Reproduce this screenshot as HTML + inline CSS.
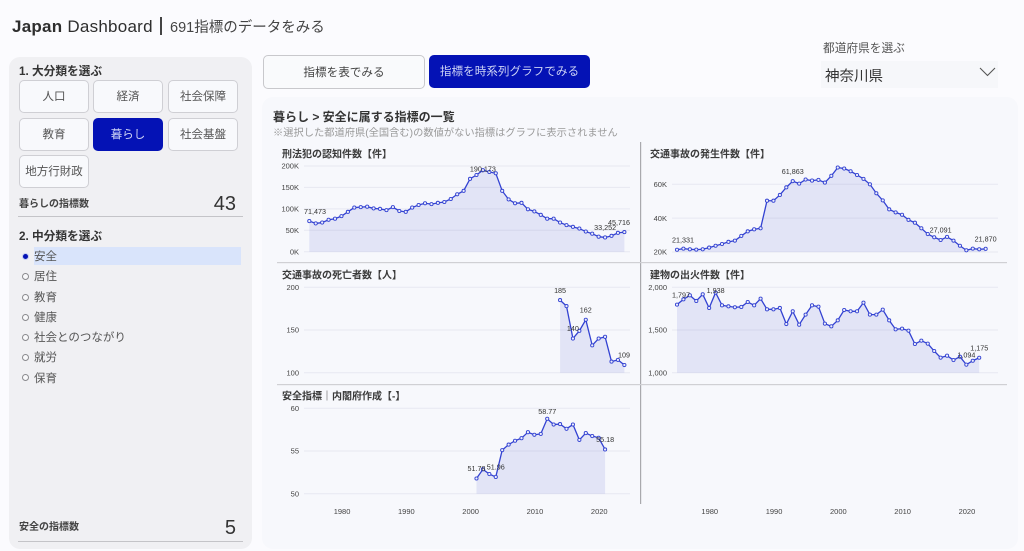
<!DOCTYPE html>
<html lang="ja">
<head>
<meta charset="utf-8">
<title>Japan Dashboard</title>
<style>
html,body{margin:0;padding:0;background:#fbfbfe;}
body{width:1024px;height:551px;overflow:hidden;position:relative;font-family:"Liberation Sans","Noto Sans CJK JP",sans-serif;color:#333;}
.abs{position:absolute;white-space:nowrap;}
#sidebar{position:absolute;left:9px;top:57px;width:243px;height:492px;background:#f0f0f3;border-radius:11px;}
#main-panel{position:absolute;left:262px;top:97px;width:756px;height:452px;background:#f7f8fc;border-radius:11px;}
.cat{position:absolute;width:68px;height:31px;box-sizing:content-box;border:1px solid #cfcfd4;border-radius:5px;background:#f8f9fc;color:#555;font-size:11.5px;line-height:33px;text-align:center;}
.cat.on{background:#0412b5;border-color:#0412b5;color:#ccd2f5;}
.hd{font-weight:700;font-size:11.7px;color:#333;}
.radio{position:absolute;left:21.5px;width:5px;height:5px;border:1px solid #8a8a8e;border-radius:50%;background:#f8f8fa;}
.rlabel{position:absolute;left:34px;font-size:11.5px;line-height:16px;color:#555;white-space:nowrap;}
.rule{position:absolute;left:18px;width:225px;height:1px;background:#c4c4c8;}
svg{position:absolute;left:0;top:0;}
</style>
</head>
<body>
<div class="abs" style="left:12px;top:16px;font-size:17px;line-height:22px;letter-spacing:.25px;color:#2e2e2e;"><b>Japan</b> Dashboard</div>
<div class="abs" style="left:160px;top:17px;width:1.5px;height:18px;background:#444;"></div>
<div class="abs" style="left:170px;top:17.5px;font-size:14.5px;line-height:20px;color:#444;">691指標のデータをみる</div>

<div id="sidebar"></div>
<div class="abs hd" style="left:19px;top:64px;line-height:16px;">1. 大分類を選ぶ</div>
<div class="cat" style="left:19px;top:80px;">人口</div>
<div class="cat" style="left:93px;top:80px;">経済</div>
<div class="cat" style="left:168px;top:80px;">社会保障</div>
<div class="cat" style="left:19px;top:118px;">教育</div>
<div class="cat on" style="left:93px;top:118px;">暮らし</div>
<div class="cat" style="left:168px;top:118px;">社会基盤</div>
<div class="cat" style="left:19px;top:155px;">地方行財政</div>
<div class="abs" style="left:19px;top:197px;font-size:10px;line-height:16px;font-weight:700;color:#444;">暮らしの指標数</div>
<div class="abs" style="right:788px;top:192px;font-size:20px;line-height:24px;color:#333;">43</div>
<div class="rule" style="top:216px;"></div>
<div class="abs hd" style="left:19px;top:229px;line-height:16px;">2. 中分類を選ぶ</div>
<div class="abs" style="left:34px;top:247px;width:207px;height:18px;background:#d9e4fb;"></div>
<div class="radio" style="top:253px;background:#0412b5;border-color:#c5cdf0;"></div><div class="rlabel" style="top:249px;">安全</div>
<div class="radio" style="top:273px;"></div><div class="rlabel" style="top:269px;">居住</div>
<div class="radio" style="top:293.5px;"></div><div class="rlabel" style="top:290px;">教育</div>
<div class="radio" style="top:313.5px;"></div><div class="rlabel" style="top:310px;">健康</div>
<div class="radio" style="top:333.5px;"></div><div class="rlabel" style="top:330px;">社会とのつながり</div>
<div class="radio" style="top:354px;"></div><div class="rlabel" style="top:350px;">就労</div>
<div class="radio" style="top:374px;"></div><div class="rlabel" style="top:371px;">保育</div>
<div class="abs" style="left:19px;top:520px;font-size:10px;line-height:16px;font-weight:700;color:#444;">安全の指標数</div>
<div class="abs" style="right:788px;top:516px;font-size:20px;line-height:24px;color:#333;">5</div>
<div class="rule" style="top:541px;"></div>

<div class="abs" style="left:263px;top:55px;width:160px;height:32px;border:1px solid #c8c8cc;border-radius:5px;background:#f9fafc;font-size:11.6px;line-height:33px;text-align:center;color:#444;">指標を表でみる</div>
<div class="abs" style="left:429px;top:55px;width:161px;height:33px;border-radius:5px;background:#0412b5;font-size:11.6px;line-height:34px;text-align:center;color:#ccd2f5;">指標を時系列グラフでみる</div>
<div class="abs" style="left:823px;top:41px;font-size:11.7px;line-height:16px;color:#555;">都道府県を選ぶ</div>
<div class="abs" style="left:821px;top:61px;width:177px;height:27px;background:#f6f7fa;"></div>
<div class="abs" style="left:825px;top:65.5px;font-size:14.5px;line-height:22px;color:#333;">神奈川県</div>

<div id="main-panel"></div>
<div class="abs" style="left:273px;top:109px;font-size:12px;line-height:16px;font-weight:700;color:#333;">暮らし &gt; 安全に属する指標の一覧</div>
<div class="abs" style="left:273px;top:126px;font-size:10.25px;line-height:16px;color:#999;">※選択した都道府県(全国含む)の数値がない指標はグラフに表示されません</div>

<svg id="charts" width="1024" height="551" xmlns="http://www.w3.org/2000/svg">
<path d="M980 68 L987.5 75.5 L995 68" fill="none" stroke="#555" stroke-width="1.1"/>
<rect x="640" y="142" width="1.2" height="362" fill="#a9a9ad"/>
<rect x="277" y="262" width="730" height="1.2" fill="#d0d0d4"/>
<rect x="277" y="384" width="730" height="1.2" fill="#d0d0d4"/>
</svg>

<script>
// --- Chart data ---
const crimeStartYear = 1975;
const crimeValues = [71473,66000,68000,74500,77000,83000,93000,103000,104000,105000,101000,100000,97000,104000,95000,93000,103000,109000,113000,111000,114000,116000,123000,134000,142000,170000,179000,190173,186000,183000,142000,122000,113000,114000,99000,94000,86000,77000,77000,68000,62000,58000,54000,47000,42000,35000,33252,37000,44000,45716];
const crimeTicks = [0,50000,100000,150000,200000];
const crimeTickLabels = ['0K','50K','100K','150K','200K'];
const crimeLabelYears = [1975,2002,2021,2024];

const accidentStartYear = 1975;
const accidentValues = [21331,22000,21600,21400,21600,22600,23700,24700,26000,26700,29500,32200,33400,34000,50300,50300,53700,58200,61863,60400,62800,62200,62600,61000,65000,69900,69300,67700,65500,63200,60000,54700,50500,45200,43400,42000,39000,37300,34000,30600,28700,27091,28900,26700,23700,21000,22000,21600,21870];
const accidentTicks = [20000,40000,60000];
const accidentTickLabels = ['20K','40K','60K'];
const accidentLabelYears = [1975,1993,2016,2023];

const deathStartYear = 2014;
const deathValues = [185,178,140,149,162,132,140,142,113,115,109];
const deathTicks = [100,150,200];
const deathTickLabels = ['100','150','200'];
const deathLabelYears = [2014,2016,2018,2024];

const fireStartYear = 1975;
const fireValues = [1797,1859,1906,1840,1918,1758,1938,1789,1777,1766,1770,1828,1789,1867,1742,1742,1758,1570,1719,1562,1680,1789,1773,1574,1543,1613,1734,1719,1719,1820,1680,1680,1738,1613,1508,1516,1492,1336,1375,1340,1254,1176,1199,1148,1187,1094,1140,1175];
const fireTicks = [1000,1500,2000];
const fireTickLabels = ['1,000','1,500','2,000'];
const fireLabelYears = [1975,1981,2020,2022];

const safetyStartYear = 2001;
const safetyValues = [51.78,52.85,52.3,51.96,55.1,55.75,56.2,56.5,57.2,56.9,57.0,58.77,58.1,58.15,57.6,58.1,56.3,57.1,56.75,56.55,55.18];
const safetyTicks = [50,55,60];
const safetyTickLabels = ['50','55','60'];
const safetyLabelYears = [2001,2004,2012,2021];

const xTickYears = [1980,1990,2000,2010,2020];
const xTickLabels = ['1980','1990','2000','2010','2020'];

const SVGNS = 'http://www.w3.org/2000/svg';
const svg = document.getElementById('charts');
const FONT = '"Liberation Sans","Noto Sans CJK JP",sans-serif';

function mk(tag, attrs) {
  const el = document.createElementNS(SVGNS, tag);
  for (const k in attrs) el.setAttribute(k, attrs[k]);
  return el;
}

function drawChart(c) {
  const xScale = y => c.x1975 + (y - 1975) * 6.43;
  const yScale = v => c.py0 + (v - c.d0) / (c.d1 - c.d0) * (c.py1 - c.py0);
  const left = c.gridL, right = c.gridL + 326;

  const title = mk('text', {x: c.titleX, y: c.titleY, 'font-size': 10, 'font-weight': 700, fill: '#3a3a3a', 'font-family': FONT});
  title.textContent = c.title;
  
  
  svg.appendChild(title);

  c.ticks.forEach((t, i) => {
    const py = yScale(t);
    const line = mk('line', {x1: left, x2: right, y1: py, y2: py, stroke: '#e7e8f1', 'stroke-width': 1});
    
    
    svg.appendChild(line);
    const lab = mk('text', {x: left - 5, y: py + 2.7, 'text-anchor': 'end', 'font-size': 7.5, fill: '#444', 'font-family': FONT});
    lab.textContent = c.tickLabels[i];
    
    
    svg.appendChild(lab);
  });

  const pts = c.values.map((v, i) => [xScale(c.start + i), yScale(v)]);
  const base = yScale(c.d0);
  const lineStr = pts.map(p => p[0].toFixed(2) + ',' + p[1].toFixed(2)).join(' ');
  const area = mk('polygon', {points: pts[0][0].toFixed(2) + ',' + base + ' ' + lineStr + ' ' + pts[pts.length - 1][0].toFixed(2) + ',' + base, fill: '#2f3fc4', 'fill-opacity': 0.1});
  
  
  svg.appendChild(area);
  const line = mk('polyline', {points: lineStr, fill: 'none', stroke: '#3342d2', 'stroke-width': 1.3});
  
  
  svg.appendChild(line);
  pts.forEach(p => {
    const dot = mk('circle', {cx: p[0], cy: p[1], r: 1.6, fill: '#eef0fb', stroke: '#3342d2', 'stroke-width': 0.9});
    
    
    svg.appendChild(dot);
  });

  c.labelYears.forEach(y => {
    const v = c.values[y - c.start];
    const ly = Math.max(yScale(v) - 7.3, c.labelTop);
    const t = mk('text', {y: ly, 'text-anchor': 'middle', 'font-size': 7.2, fill: '#333', 'font-family': FONT});
    t.textContent = c.fmt(v);
    
    
    svg.appendChild(t);
    const w = t.getComputedTextLength();
    let cx = xScale(y);
    cx = Math.max(left + w / 2, Math.min(right - w / 2, cx));
    t.setAttribute('x', cx);
  });
}

function drawXAxis(x1975) {
  xTickYears.forEach((y, i) => {
    const t = mk('text', {x: x1975 + (y - 1975) * 6.43 + 0.6, y: 514, 'text-anchor': 'middle', 'font-size': 7.5, fill: '#444', 'font-family': FONT});
    t.textContent = xTickLabels[i];
    
    
    svg.appendChild(t);
  });
}

const comma = v => Math.round(v).toLocaleString('en-US');

drawChart({title: '刑法犯の認知件数【件】', titleX: 282, titleY: 157.5, gridL: 304, x1975: 309.3, start: crimeStartYear, values: crimeValues, ticks: crimeTicks, tickLabels: crimeTickLabels, labelYears: crimeLabelYears, d0: 0, d1: 200000, py0: 251.7, py1: 166, labelTop: 171.7, fmt: comma});
drawChart({title: '交通事故の発生件数【件】', titleX: 650, titleY: 157.5, gridL: 672, x1975: 677, start: accidentStartYear, values: accidentValues, ticks: accidentTicks, tickLabels: accidentTickLabels, labelYears: accidentLabelYears, d0: 20000, d1: 60000, py0: 252, py1: 184.3, labelTop: 160, fmt: comma});
drawChart({title: '交通事故の死亡者数【人】', titleX: 282, titleY: 278.5, gridL: 304, x1975: 309.3, start: deathStartYear, values: deathValues, ticks: deathTicks, tickLabels: deathTickLabels, labelYears: deathLabelYears, d0: 100, d1: 200, py0: 372.7, py1: 287.3, labelTop: 293, fmt: comma});
drawChart({title: '建物の出火件数【件】', titleX: 650, titleY: 278.5, gridL: 672, x1975: 677, start: fireStartYear, values: fireValues, ticks: fireTicks, tickLabels: fireTickLabels, labelYears: fireLabelYears, d0: 1000, d1: 2000, py0: 372.7, py1: 287.3, labelTop: 293, fmt: comma});
drawChart({title: '安全指標｜内閣府作成【-】', titleX: 282, titleY: 399.5, gridL: 304, x1975: 309.3, start: safetyStartYear, values: safetyValues, ticks: safetyTicks, tickLabels: safetyTickLabels, labelYears: safetyLabelYears, d0: 50, d1: 60, py0: 493.7, py1: 408.3, labelTop: 414, fmt: v => v.toFixed(2)});

drawXAxis(309.3);
drawXAxis(677);
</script>
</body>
</html>
